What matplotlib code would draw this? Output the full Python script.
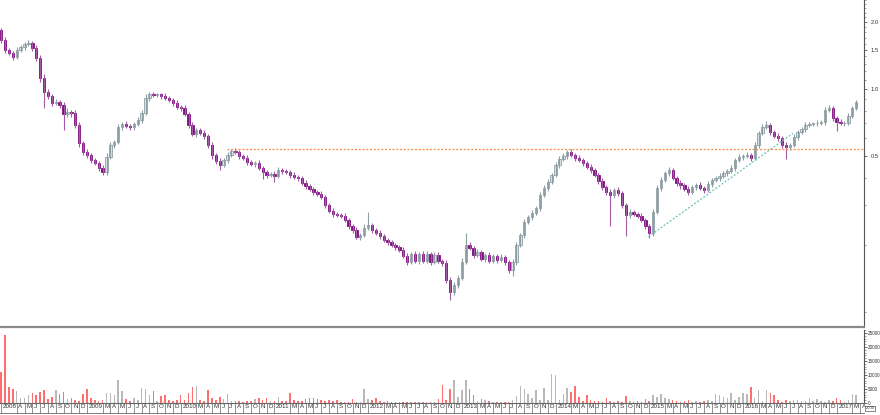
#half-monthly candles of a thin stock, log price on top, volume below
import numpy as np
import matplotlib
matplotlib.use('Agg')
import matplotlib.pyplot as plt
from matplotlib.lines import Line2D
import matplotlib.transforms as mtransforms

# x is counted in months after 1 Jan 2008, first bar on 1 Feb 2008, one bar every half month
first_month = 1.0
first_open = 1.84

closes = [
    1.66, 1.50, 1.45, 1.39, 1.50, 1.54, 1.59, 1.61, 1.53, 1.38, 1.12, 0.97, 0.93, 0.865, 0.874, 0.847, 0.772, 0.788, 0.78, 0.689,
    0.572, 0.521, 0.505, 0.48, 0.465, 0.442, 0.424, 0.495, 0.56, 0.578, 0.675, 0.696, 0.682, 0.675, 0.696, 0.726, 0.78, 0.911, 0.95, 0.94,
    0.945, 0.93, 0.911, 0.892, 0.865, 0.83, 0.822, 0.772, 0.689, 0.628, 0.654, 0.634, 0.615, 0.56, 0.505, 0.475, 0.455, 0.48, 0.505, 0.527,
    0.521, 0.50, 0.49, 0.47, 0.46, 0.465, 0.442, 0.424, 0.411, 0.414, 0.407, 0.433, 0.428, 0.424, 0.411, 0.402, 0.398, 0.378, 0.367, 0.355,
    0.345, 0.338, 0.327, 0.301, 0.283, 0.274, 0.272, 0.27, 0.258, 0.242, 0.233, 0.216, 0.221, 0.237, 0.245, 0.233, 0.226, 0.219, 0.21, 0.205,
    0.199, 0.195, 0.189, 0.178, 0.167, 0.181, 0.168, 0.182, 0.169, 0.181, 0.167, 0.18, 0.169, 0.165, 0.139, 0.122, 0.132, 0.142, 0.167, 0.199,
    0.193, 0.18, 0.185, 0.172, 0.18, 0.168, 0.178, 0.171, 0.176, 0.167, 0.154, 0.167, 0.199, 0.221, 0.253, 0.266, 0.277, 0.292, 0.334, 0.359,
    0.382, 0.411, 0.455, 0.485, 0.50, 0.521, 0.505, 0.49, 0.48, 0.465, 0.446, 0.433, 0.411, 0.386, 0.363, 0.345, 0.334, 0.352, 0.341, 0.301,
    0.272, 0.28, 0.274, 0.27, 0.258, 0.242, 0.226, 0.28, 0.359, 0.39, 0.419, 0.433, 0.398, 0.378, 0.37, 0.355, 0.345, 0.363, 0.37, 0.359,
    0.352, 0.374, 0.39, 0.398, 0.407, 0.419, 0.428, 0.442, 0.48, 0.495, 0.50, 0.505, 0.49, 0.56, 0.634, 0.675, 0.689, 0.64, 0.615, 0.60,
    0.56, 0.55, 0.56, 0.61, 0.64, 0.66, 0.689, 0.696, 0.70, 0.705, 0.71, 0.805, 0.822, 0.74, 0.71, 0.70, 0.705, 0.755, 0.822, 0.874,
]

# upper / lower shadow, percent above the body top / below the body bottom
wick_hi = [
    2, 3, 2, 2, 3, 2, 2, 3, 2, 3, 3, 4, 3, 2, 3, 2, 3, 4, 2, 3,
    3, 2, 3, 2, 2, 2, 3, 4, 3, 2, 3, 2, 3, 2, 2, 3, 3, 4, 2, 2,
    2, 2, 3, 2, 2, 3, 2, 3, 2, 3, 2, 2, 3, 2, 3, 2, 3, 2, 3, 2,
    3, 2, 2, 3, 2, 2, 3, 2, 2, 2, 3, 3, 2, 2, 2, 3, 2, 2, 3, 2,
    2, 2, 3, 2, 2, 3, 2, 2, 3, 2, 2, 3, 2, 4, 14, 2, 2, 3, 2, 2,
    2, 2, 2, 3, 3, 2, 3, 2, 3, 3, 2, 3, 3, 2, 3, 3, 3, 3, 4, 13,
    3, 2, 3, 2, 2, 3, 2, 2, 3, 2, 2, 3, 3, 2, 3, 2, 3, 2, 3, 3,
    3, 2, 3, 3, 3, 2, 3, 2, 3, 2, 2, 3, 2, 2, 3, 2, 3, 2, 3, 2,
    2, 3, 2, 2, 3, 2, 2, 3, 3, 3, 2, 3, 2, 2, 3, 2, 3, 2, 2, 3,
    2, 3, 2, 2, 3, 2, 2, 3, 2, 3, 2, 3, 2, 3, 2, 3, 4, 2, 2, 3,
    2, 3, 2, 3, 2, 2, 3, 2, 2, 3, 2, 3, 3, 2, 2, 3, 2, 3, 2, 2,
]
wick_lo = [
    3, 3, 2, 3, 2, 2, 3, 2, 3, 3, 4, 18, 3, 3, 2, 3, 18, 3, 4, 3,
    4, 3, 3, 3, 2, 3, 3, 3, 2, 3, 2, 3, 2, 3, 3, 2, 3, 2, 3, 2,
    2, 3, 2, 2, 3, 2, 3, 2, 3, 2, 3, 2, 3, 3, 4, 3, 5, 2, 3, 2,
    2, 3, 2, 3, 2, 3, 2, 8, 3, 2, 6, 2, 3, 2, 3, 2, 3, 2, 3, 2,
    3, 2, 2, 3, 2, 3, 2, 3, 2, 3, 3, 2, 3, 2, 2, 3, 2, 3, 2, 3,
    2, 3, 2, 2, 3, 2, 2, 3, 2, 2, 3, 2, 2, 3, 3, 8, 3, 3, 2, 2,
    2, 3, 2, 2, 3, 2, 2, 3, 2, 3, 3, 7, 3, 2, 3, 2, 3, 2, 3, 2,
    3, 2, 2, 3, 2, 3, 2, 3, 2, 3, 2, 3, 2, 3, 3, 3, 38, 3, 3, 3,
    25, 3, 2, 3, 2, 3, 5, 3, 2, 3, 2, 3, 2, 3, 4, 2, 3, 2, 3, 2,
    3, 2, 3, 2, 3, 2, 3, 2, 3, 2, 3, 2, 3, 2, 3, 2, 2, 3, 2, 3,
    3, 14, 3, 2, 3, 2, 3, 2, 2, 3, 2, 3, 2, 3, 10, 2, 3, 2, 2, 2,
]

volumes = [
    11000, 24200, 5700, 5100, 4300, 1800, 1800, 2900, 3600, 2900, 3900, 4600, 1400, 2100, 4600, 3200, 3900, 1400, 1800, 1100,
    700, 3200, 5000, 1800, 1100, 700, 1000, 3600, 3600, 2900, 8200, 4300, 1400, 700, 1800, 1100, 5400, 5000, 2900, 4300,
    700, 2500, 2900, 900, 700, 1000, 2900, 1100, 3600, 5700, 6100, 1100, 800, 4600, 1800, 1100, 2100, 1500, 3200, 700,
    700, 700, 500, 700, 600, 1400, 1800, 900, 1800, 700, 800, 2100, 600, 700, 3600, 900, 700, 700, 1500, 1900,
    1800, 1300, 1000, 600, 1000, 700, 1000, 500, 400, 500, 1300, 500, 400, 4900, 1400, 900, 1800, 600, 400, 700,
    300, 400, 300, 300, 400, 300, 300, 300, 400, 300, 400, 300, 1300, 6300, 1000, 4900, 8100, 2100, 4500, 8100,
    5100, 2700, 800, 1300, 1100, 700, 500, 400, 500, 300, 500, 900, 2400, 5900, 4900, 3200, 1800, 4800, 900, 5500,
    900, 10500, 9900, 1200, 3200, 5400, 3900, 5900, 2300, 700, 2700, 1200, 600, 600, 400, 1800, 800, 500, 800, 400,
    2400, 600, 400, 600, 400, 1300, 800, 2700, 2100, 3100, 1800, 1300, 1000, 800, 500, 600, 1100, 500, 600, 400,
    800, 1100, 600, 3200, 2800, 2100, 1800, 3600, 1000, 2100, 3600, 3200, 5700, 1800, 4600, 600, 4600, 3600, 2700, 1100,
    500, 900, 600, 1100, 1100, 800, 600, 1800, 800, 1400, 600, 400, 1100, 600, 1800, 1200, 500, 1200, 3200, 2800,
]

# drawn lines
resistance_level = 0.537
resistance_from = 29.9
trend_x = [83.9, 102.4]
trend_y = [0.217, 0.632]

price_ticks = [0.5, 1.0, 1.5, 2.0]
volume_ticks = [0, 5000, 10000, 15000, 20000, 25000]
month_letters = ['J', 'F', 'M', 'A', 'M', 'J', 'J', 'A', 'S', 'O', 'N', 'D']
last_tick_month = 111

# ---- build OHLC
closes = np.array(closes)
n = len(closes)
x = first_month + 0.5 * np.arange(n)
opens = np.r_[first_open, closes[:-1]]
highs = np.maximum(opens, closes) * (1 + np.array(wick_hi) / 100)
lows = np.minimum(opens, closes) / (1 + np.array(wick_lo) / 100)
up = closes >= opens

xmin, xmax = 0.86, 111.5

plt.rcParams['font.family'] = ['Liberation Sans Narrow', 'Liberation Sans', 'DejaVu Sans']
fig = plt.figure(figsize=(8.8, 4.15), dpi=100)
ax = fig.add_axes([0, 1 - 327 / 415, 864 / 880, 327 / 415])
axv = fig.add_axes([0, 1 - 403 / 415, 864 / 880, 73 / 415])

up_fill, up_edge = '#dde6e8', '#8c9ea3'
dn_col, dn_wick = '#7e0f80', '#a45aa6'

ax.set_yscale('log')
ax.vlines(x[up], lows[up], highs[up], colors=up_edge, lw=0.8)
ax.vlines(x[~up], lows[~up], highs[~up], colors=dn_wick, lw=0.8)
ax.bar(x[up], (closes - opens)[up], bottom=opens[up], width=0.3,
       color=up_fill, edgecolor=up_edge, lw=0.6)
ax.bar(x[~up], (opens - closes)[~up], bottom=closes[~up], width=0.3,
       color=dn_col, edgecolor=dn_col, lw=0.6)

ax.hlines(resistance_level, resistance_from, xmax, colors='#ff8a3d',
          linestyles=(0, (1.6, 1.4)), lw=0.9)
ax.plot(trend_x, trend_y, color='#6cc6b0', ls=(0, (1.6, 1.4)), lw=0.9)

ax.set_xlim(xmin, xmax)
ax.set_ylim(0.0853, 2.51)
ax.yaxis.tick_right()
ax.set_yticks(price_ticks)
ax.set_yticklabels(['%.1f' % t for t in price_ticks])
minor = [v / 10 for v in range(1, 10)] + [1.1, 1.2, 1.3, 1.4, 1.6, 1.7, 1.8, 1.9, 2.1, 2.2, 2.3, 2.4, 2.5]
ax.set_yticks(minor, minor=True)
ax.set_yticklabels([], minor=True)
ax.tick_params(axis='y', which='major', length=2.5, width=0.6, colors='#555555', labelsize=4.2, pad=2.5,
               labelcolor='#333333')
ax.tick_params(axis='y', which='minor', length=1.3, width=0.5, colors='#777777')
ax.set_xticks([])
for s in ['top', 'left']:
    ax.spines[s].set_visible(False)
ax.spines['right'].set_color('#555555')
ax.spines['right'].set_linewidth(0.8)
ax.spines['bottom'].set_color('#8a8a8a')
ax.spines['bottom'].set_linewidth(1.6)

# ---- volume
vol_cols = np.where(up, '#b9b9b9', '#ff6f6f')
axv.bar(x, volumes, width=0.2, color=vol_cols, lw=0)
axv.set_xlim(xmin, xmax)
axv.set_ylim(0, 26070)
axv.yaxis.tick_right()
axv.set_yticks(volume_ticks)
axv.set_yticklabels([str(t) for t in volume_ticks])
axv.set_yticks(range(0, 26001, 1000), minor=True)
axv.tick_params(axis='y', which='major', length=2.0, width=0.6, colors='#555555', labelsize=3.3, pad=0.8,
                labelcolor='#333333')
axv.tick_params(axis='y', which='minor', length=1.2, width=0.5, colors='#777777')
for s in ['top', 'left']:
    axv.spines[s].set_visible(False)
axv.spines['right'].set_color('#555555')
axv.spines['right'].set_linewidth(0.8)
axv.spines['bottom'].set_color('#666666')
axv.spines['bottom'].set_linewidth(0.8)

# month ticks: year at January, first letter otherwise, February dropped
tick_pos, tick_lab = [], []
for m in range(1, last_tick_month + 1):
    mon = m % 12
    if m == 1:
        lab = '2008'
    elif m == 2:
        continue
    elif mon == 0:
        lab = str(2008 + m // 12)
    elif mon == 1:
        continue
    else:
        lab = month_letters[mon]
    tick_pos.append(m)
    tick_lab.append(lab)
axv.set_xticks(tick_pos)
axv.set_xticklabels(tick_lab)
axv.tick_params(axis='x', length=7, width=0.5, colors='#666666', labelsize=4.5, pad=-6.6,
                labelcolor='#333333')
shift = mtransforms.ScaledTranslation(1.2 / 72, 0, fig.dpi_scale_trans)
for lbl in axv.get_xticklabels():
    lbl.set_ha('left')
    lbl.set_transform(lbl.get_transform() + shift)

fig.add_artist(Line2D([0, 864 / 880], [1 - 412.5 / 415] * 2, color='#666666', lw=0.6))
fig.text(865.5 / 880, 1 - 408 / 415, '2000', fontsize=3.0, color='#333333', va='center', ha='left',
         bbox=dict(boxstyle='square,pad=0.12', fc='white', ec='#555555', lw=0.5))

fig.savefig('out.png', dpi=100, facecolor='white')
